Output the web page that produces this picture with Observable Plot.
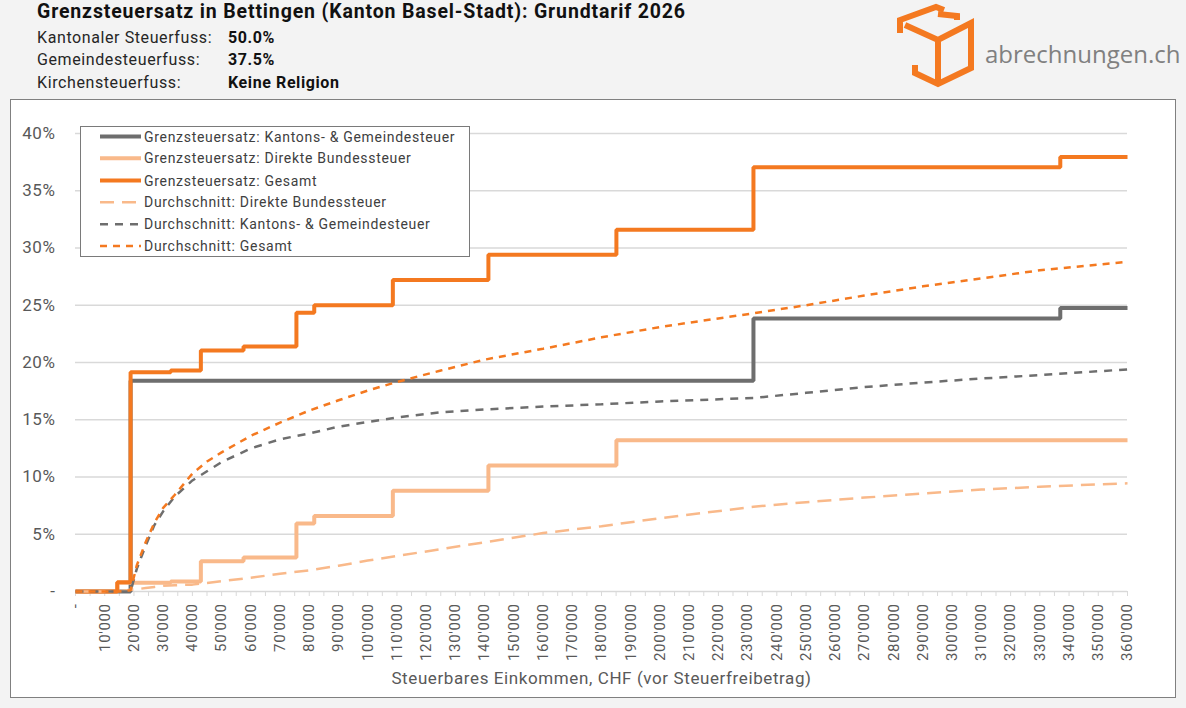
<!DOCTYPE html>
<html><head><meta charset="utf-8">
<script src="https://cdn.jsdelivr.net/npm/d3@7"></script>
<script src="https://cdn.jsdelivr.net/npm/@observablehq/plot@0.6"></script>
<style>
body{margin:0;background:#f3f3f3;width:1186px;height:708px;overflow:hidden;position:relative;font-family:Roboto,sans-serif}
#box{position:absolute;left:10px;top:99px;width:1164px;height:597px;background:#fff;border:1px solid #808080}
#chart{position:absolute;left:0;top:0}
#chart text{letter-spacing:0.6px}
#overlay{position:absolute;left:0;top:0;pointer-events:none}
</style></head><body>
<div id="box"></div>
<div id="chart"></div>
<svg id="overlay" width="1186" height="708"></svg>
<script>
// ---------- DATA ----------
const title = "Grenzsteuersatz in Bettingen (Kanton Basel-Stadt): Grundtarif 2026";
const infoLabels = ["Kantonaler Steuerfuss:", "Gemeindesteuerfuss:", "Kirchensteuerfuss:"];
const infoValues = ["50.0%", "37.5%", "Keine Religion"];
const xTitle = "Steuerbares Einkommen, CHF (vor Steuerfreibetrag)";

// marginal rates (step functions), income in CHF, rate in %
const kgstBreaks = [0, 18850, 232000, 337000, 360000];
const kgstRates  = [0, 18.4, 23.85, 24.75, 24.75];
const dbstBreaks = [0, 14300, 32600, 42900, 57500, 75600, 81700, 108600, 141300, 185100, 360000];
const dbstRates  = [0, 0.77, 0.88, 2.64, 2.97, 5.94, 6.6, 8.8, 11.0, 13.2, 13.2];
const totalBreaks = [0, 14300, 18850, 32600, 42900, 57500, 75600, 81700, 108600, 141300, 185100, 232000, 337000, 360000];
const totalRates  = [0, 0.8, 19.15, 19.3, 21.05, 21.4, 24.35, 25.0, 27.2, 29.4, 31.6, 37.05, 37.95, 37.95];

// average rates, in %
const avgIncome = [0, 14300, 18850, 21000, 24000, 27000, 30000, 34000, 40000, 45000, 50000, 60000, 70000, 80000, 90000, 100000, 110000, 125000, 140000, 160000, 180000, 200000, 232000, 250000, 270000, 290000, 310000, 330000, 360000];
const avgDbst  = [0, 0, 0.15, 0.2, 0.3, 0.4, 0.5, 0.55, 0.6, 0.75, 0.9, 1.2, 1.55, 1.85, 2.25, 2.7, 3.1, 3.7, 4.3, 5.1, 5.7, 6.4, 7.4, 7.8, 8.2, 8.55, 8.9, 9.15, 9.45];
const avgKgst  = [0, 0, 0, 2.0, 4.0, 5.8, 7.0, 8.3, 9.7, 10.5, 11.3, 12.5, 13.3, 13.8, 14.4, 14.8, 15.2, 15.65, 15.9, 16.15, 16.35, 16.6, 16.9, 17.35, 17.85, 18.25, 18.6, 18.9, 19.4];
const avgTotal = [0, 0, 0.1, 2.3, 4.3, 6.0, 7.3, 8.45, 10.3, 11.35, 12.15, 13.6, 14.75, 15.8, 16.7, 17.55, 18.3, 19.3, 20.25, 21.2, 22.2, 23.1, 24.3, 25.0, 25.85, 26.65, 27.35, 28.05, 28.8];

const seriesNames = [
  "Grenzsteuersatz: Kantons- & Gemeindesteuer",
  "Grenzsteuersatz: Direkte Bundessteuer",
  "Grenzsteuersatz: Gesamt",
  "Durchschnitt: Direkte Bundessteuer",
  "Durchschnitt: Kantons- & Gemeindesteuer",
  "Durchschnitt: Gesamt"
];
const yTicks = [0, 0.05, 0.10, 0.15, 0.20, 0.25, 0.30, 0.35, 0.40];
const xLabelTicks = d3.range(0, 360001, 10000);
const xMinorTicks = d3.range(0, 360001, 5000);

// ---------- STYLES ----------
const ORANGE = "#f47920", LIGHT = "#f9b98a", GRAY = "#6e6e6e";
const styles = [
  {stroke: GRAY, width: 4, dash: null},
  {stroke: LIGHT, width: 4, dash: null},
  {stroke: ORANGE, width: 4, dash: null},
  {stroke: LIGHT, width: 2.5, dash: "14,8"},
  {stroke: GRAY, width: 2.5, dash: "8,7"},
  {stroke: ORANGE, width: 2.5, dash: "7,6"}
];

const toRows = (xs, ys) => xs.map((x, i) => ({x, y: ys[i] / 100}));
const series = [
  toRows(kgstBreaks, kgstRates),
  toRows(dbstBreaks, dbstRates),
  toRows(totalBreaks, totalRates),
  toRows(avgIncome, avgDbst),
  toRows(avgIncome, avgKgst),
  toRows(avgIncome, avgTotal)
];

const fmtX = d => d === 0 ? "-" : d3.format(",")(d).replace(/,/g, "'");
const fmtY = d => d === 0 ? "-" : Math.round(d * 100) + "%";

const chart = Plot.plot({
  width: 1186, height: 708,
  marginLeft: 75, marginRight: 59, marginTop: 133, marginBottom: 117,
  style: {background: "transparent", fontFamily: "Roboto, sans-serif", color: "#595959", overflow: "visible"},
  x: {domain: [0, 360000], axis: null},
  y: {domain: [0, 0.4], axis: null},
  marks: [
    Plot.gridY(yTicks, {stroke: "#d9d9d9", strokeOpacity: 1, strokeWidth: 1.5}),
    Plot.axisX(xMinorTicks, {tickSize: 5, tickFormat: () => "", stroke: "#d9d9d9", strokeOpacity: 1, label: null}),
    Plot.axisX(xLabelTicks, {tickSize: 0, tickPadding: 12, tickRotate: -90, tickFormat: fmtX, fontSize: 15, fill: "#595959", label: null}),
    Plot.axisY(yTicks, {tickSize: 0, tickPadding: 20, tickFormat: fmtY, fontSize: 17, fill: "#595959", label: null}),
    ...series.map((data, i) => Plot.line(data, {
      x: "x", y: "y", curve: i < 3 ? "step-after" : "linear",
      stroke: styles[i].stroke, strokeWidth: styles[i].width,
      strokeDasharray: styles[i].dash, strokeLinejoin: "miter", strokeLinecap: "butt"
    })),
    Plot.text([xTitle], {frameAnchor: "bottom", dy: 92, fontSize: 17, fill: "#595959"})
  ]
});
document.getElementById("chart").appendChild(chart);

// ---------- OVERLAY: header, logo, legend ----------
const ov = d3.select("#overlay");
ov.append("text").attr("x", 37).attr("y", 18).attr("font-size", 19.5).attr("font-weight", 700)
  .attr("letter-spacing", 0.85).attr("fill", "#111").attr("font-family", "Roboto").text(title);
const rowBase = [43.3, 64.5, 88.3];
infoLabels.forEach((t, i) => {
  ov.append("text").attr("x", 37).attr("y", rowBase[i]).attr("font-size", 16).attr("letter-spacing", 0.6)
    .attr("fill", "#262626").attr("font-family", "Roboto").text(t);
  ov.append("text").attr("x", 228).attr("y", rowBase[i]).attr("font-size", 16).attr("font-weight", 700)
    .attr("letter-spacing", 0.6).attr("fill", "#111").attr("font-family", "Roboto").text(infoValues[i]);
});

// logo
const logo = ov.append("g").attr("fill", "none").attr("stroke", ORANGE).attr("stroke-width", 6)
  .attr("stroke-linejoin", "miter").attr("stroke-linecap", "butt");
logo.append("path").attr("d", "M900,33 V20 L936,7 L944,10");
logo.append("path").attr("d", "M938,14 L957,16 V20");
logo.append("path").attr("d", "M905,25 L938,40 L971,23 V68 L938,84 L915,73 V65");
logo.append("path").attr("d", "M938,40 V84");
ov.append("text").attr("x", 985).attr("y", 63).attr("font-size", 24).attr("fill", "#808080")
  .attr("font-family", "Open Sans").text("abrechnungen.ch");

// legend
const lg = ov.append("g");
lg.append("rect").attr("x", 80.5).attr("y", 126.5).attr("width", 389).attr("height", 130)
  .attr("fill", "#fff").attr("stroke", "#7a7a7a").attr("stroke-width", 1);
const legBase = [141.5, 163.3, 185.5, 207.3, 229.2, 251];
seriesNames.forEach((name, i) => {
  const y = legBase[i] - 5;
  lg.append("line").attr("x1", 100).attr("x2", 141).attr("y1", y).attr("y2", y)
    .attr("stroke", styles[i].stroke).attr("stroke-width", styles[i].width)
    .attr("stroke-dasharray", styles[i].dash);
  lg.append("text").attr("x", 144).attr("y", legBase[i]).attr("font-size", 14).attr("letter-spacing", 0.7)
    .attr("fill", "#404040").attr("font-family", "Roboto").text(name);
});
</script>
</body></html>
